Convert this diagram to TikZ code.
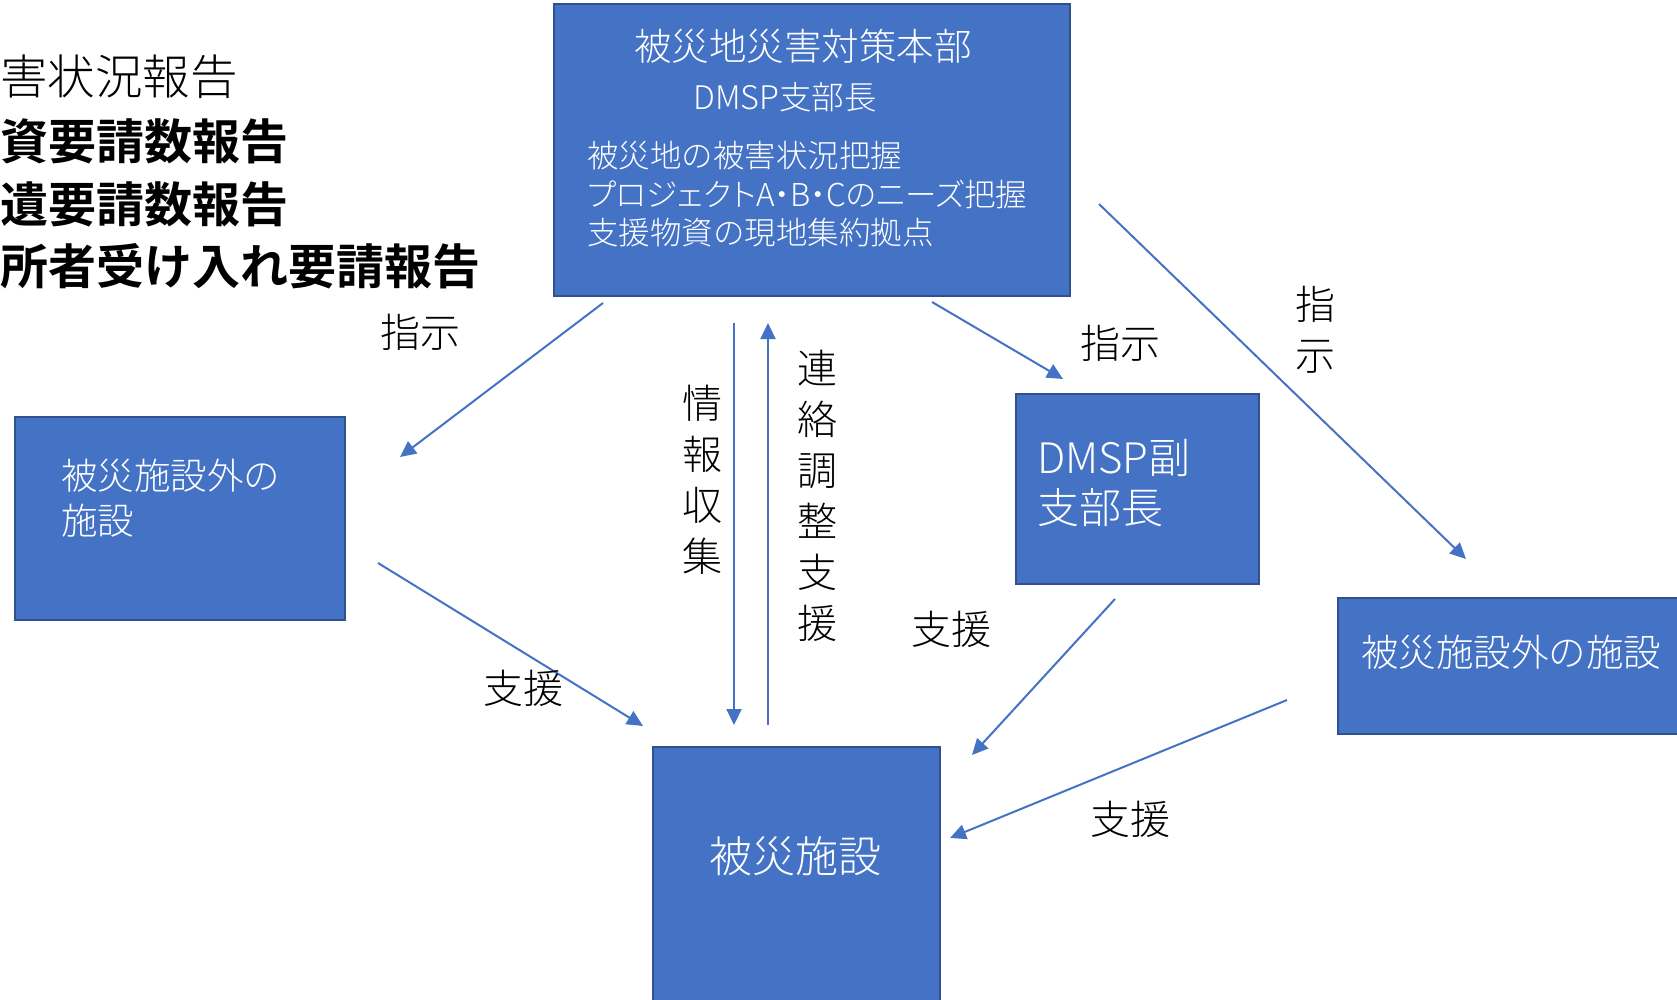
\documentclass[tikz,border=0pt]{standalone}
\usepackage{fontspec}
\usetikzlibrary{arrows.meta}
\setmainfont{Noto Sans CJK JP}[UprightFont=* Light, BoldFont=* Bold]
\newfontfamily\paltfont{Noto Sans CJK JP}[UprightFont=* Light, RawFeature=+palt]
\definecolor{boxfill}{HTML}{4472C4}
\definecolor{boxline}{HTML}{2F528F}
\tikzset{
  box/.style={draw=boxline, line width=2pt, fill=boxfill, anchor=north west, inner sep=0pt, outer sep=0pt},
  arr/.style={draw=boxfill, line width=2pt, -{Triangle[length=16pt,width=15pt]}},
  wtext/.style={text=white, inner sep=0pt},
  lbl/.style={text=black, inner sep=0pt, font=\fontsize{40}{51}\selectfont},
  side/.style={text=black, inner sep=0pt, anchor=west},
}
\begin{document}
\begin{tikzpicture}[x=1pt,y=-1pt]
\useasboundingbox (0,0) rectangle (1677,1000);
\clip (0,0) rectangle (1677,1000);
% left text
\node[side, font=\fontsize{47.5}{60}\selectfont] (t1) at (0,77) {害状況報告};
\node[side, font=\fontsize{48}{60}\selectfont\bfseries] (t2) at (0,141) {資要請数報告};
\node[side, font=\fontsize{48}{60}\selectfont\bfseries] (t3) at (0,204) {遺要請数報告};
\node[side, font=\fontsize{48}{60}\selectfont\bfseries] (t4) at (0,266) {所者受け入れ要請報告};
% boxes
\node[box, minimum width=516pt, minimum height=292pt] (hq) at (554,4) {};
\node[box, minimum width=330pt, minimum height=203pt] (left) at (15,417) {};
\node[box, minimum width=243pt, minimum height=190pt] (vice) at (1016,394) {};
\node[box, minimum width=360pt, minimum height=136pt] (right) at (1338,598) {};
\node[box, minimum width=287pt, minimum height=280pt] (hit) at (653,747) {};
% box texts
\node[wtext, font=\fontsize{37.5}{45}\selectfont] (hqtitle) at (803,46) {被災地災害対策本部};
\node[wtext, font=\fontsize{32.5}{40}\selectfont] (hqsub) at (785,97) {DMSP支部長};
\node[wtext, anchor=north west, align=left, font=\fontsize{31.5}{38.5}\selectfont] (hqbody) at (587,141)
  {被災地の被害状況把握\\{\paltfont プロジェクトA・B・Cのニーズ把握}\\支援物資の現地集約拠点};
\node[wtext, anchor=north west, align=left, font=\fontsize{36.5}{45}\selectfont] (lefttext) at (61,459)
  {被災施設外の\\施設};
\node[wtext, anchor=north west, align=left, font=\fontsize{42}{50}\selectfont] (vicetext) at (1037,439)
  {DMSP副\\支部長};
\node[wtext, anchor=west, font=\fontsize{37.5}{45}\selectfont] (righttext) at (1361,652) {被災施設外の施設};
\node[wtext, font=\fontsize{43}{50}\selectfont] (hittext) at (795,856) {被災施設};
% connector end points
\coordinate (a1s) at (603,303); \coordinate (a1e) at (400,457);
\coordinate (a2s) at (734,323); \coordinate (a2e) at (734,725);
\coordinate (a3s) at (768,725); \coordinate (a3e) at (768,323);
\coordinate (a4s) at (932,302); \coordinate (a4e) at (1063,379);
\coordinate (a5s) at (1099,204); \coordinate (a5e) at (1466,559);
\coordinate (a6s) at (378,563); \coordinate (a6e) at (643,726);
\coordinate (a7s) at (1115,599); \coordinate (a7e) at (972,755);
\coordinate (a8s) at (1287,700); \coordinate (a8e) at (950,838);
\draw[arr] (a1s) -- (a1e);
\draw[arr] (a2s) -- (a2e);
\draw[arr] (a3s) -- (a3e);
\draw[arr] (a4s) -- (a4e);
\draw[arr] (a5s) -- (a5e);
\draw[arr] (a6s) -- (a6e);
\draw[arr] (a7s) -- (a7e);
\draw[arr] (a8s) -- (a8e);
% labels
\node[lbl] (l1) at (420,332) {指示};
\node[lbl, align=center] (l2) at (702,480) {情\\報\\収\\集};
\node[lbl, align=center] (l3) at (817,496) {連\\絡\\調\\整\\支\\援};
\node[lbl] (l4) at (1120,343) {指示};
\node[lbl, align=center] (l5) at (1315,330) {指\\示};
\node[lbl] (l6) at (523,688) {支援};
\node[lbl] (l7) at (951,629) {支援};
\node[lbl] (l8) at (1130,819) {支援};
\end{tikzpicture}
\end{document}
